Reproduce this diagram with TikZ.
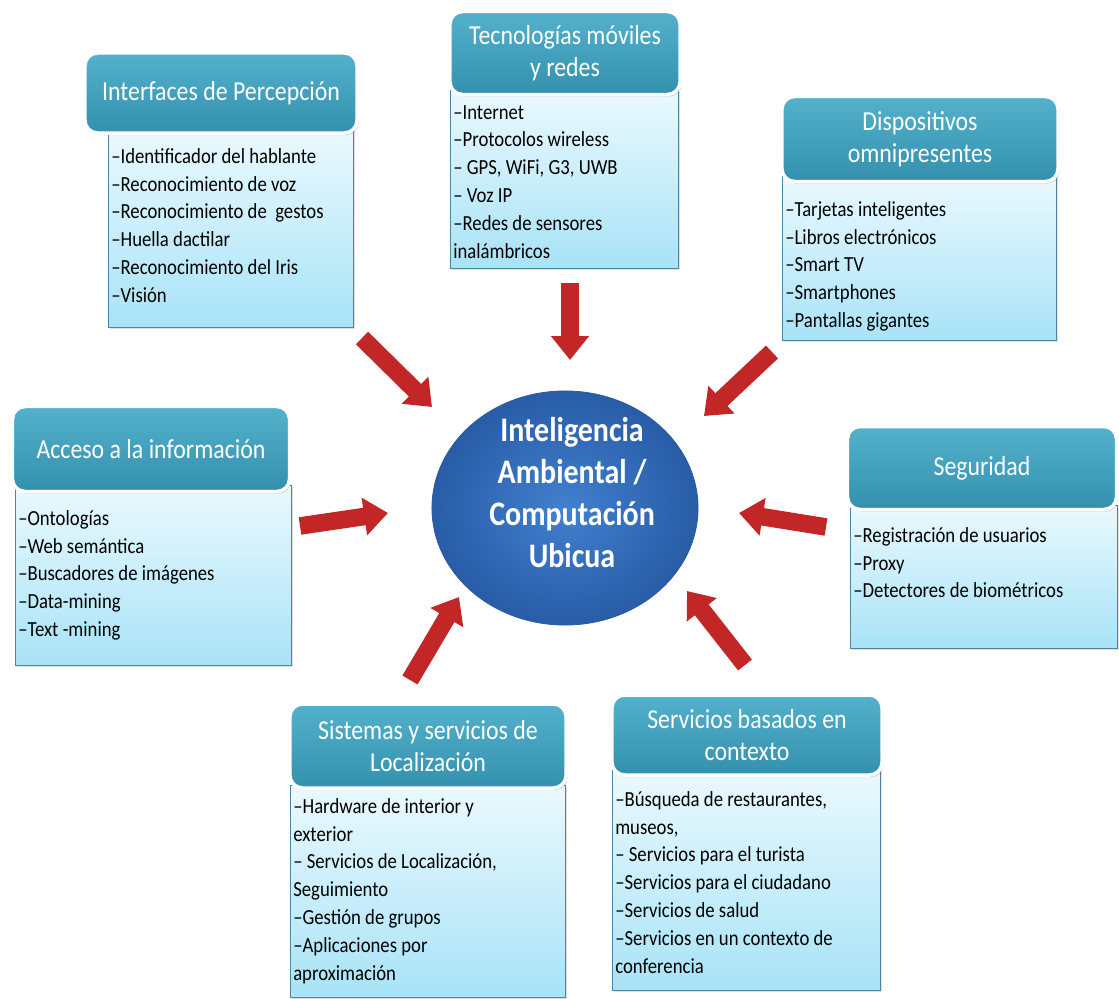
\documentclass[tikz,border=0pt]{standalone}
\usepackage{fontspec}
\setmainfont{Carlito}[FakeStretch=0.87]
\usetikzlibrary{positioning,shapes.geometric,arrows.meta,shadows}

\definecolor{headteal}{RGB}{84,177,204}
\definecolor{headdark}{RGB}{52,145,174}
\definecolor{bodytop}{RGB}{234,249,254}
\definecolor{bodybot}{RGB}{168,227,247}
\definecolor{bodyline}{RGB}{80,132,158}
\definecolor{ballblue}{RGB}{66,128,208}
\definecolor{balldark}{RGB}{40,92,166}
\definecolor{arrowred}{RGB}{194,38,38}

\tikzset{
  head/.style={draw=white, line width=2.5pt, rounded corners=9pt,
    top color=headteal, bottom color=headdark, text=white, align=center,
    font=\fontsize{19.5}{23}\selectfont,
    drop shadow={opacity=0.3, shadow xshift=1.2pt, shadow yshift=-1.5pt}},
  body/.style={draw=bodyline, line width=0.8pt, top color=bodytop,
    bottom color=bodybot, anchor=north west, inner sep=0pt,
    drop shadow={opacity=0.25, shadow xshift=1pt, shadow yshift=-1pt}},
  items/.style={anchor=north west, align=left, inner sep=0pt,
    font=\fontsize{15.3}{19.8}\selectfont},
  ball/.style={ellipse, draw=balldark, line width=0.6pt, inner color=ballblue,
    outer color=balldark},
  balltext/.style={text=white, align=center, inner sep=0pt,
    font=\fontsize{24.5}{30}\selectfont\bfseries},
  bigarrow/.style={draw=arrowred, line width=12.5pt,
    -{Triangle[width=26pt,length=17pt]}}
}

\begin{document}
\begin{tikzpicture}[x=0.025cm, y=-0.025cm]
    \useasboundingbox[fill=white] (0,0) rectangle (1119,999);

    % centre
    \node[ball, minimum width=6.65cm, minimum height=5.85cm] (ami) at (565,508) {};
    \node[balltext] (amiT) at ([xshift=5pt,yshift=11pt]ami.center)
        {Inteligencia\\Ambiental /\\Computación\\Ubicua};

    % Interfaces de Percepcion
    \node[body, minimum width=6.125cm, minimum height=4.975cm] (percB) at (108,128) {};
    \node[items] (percL) at (111,148) {–Identificador del hablante\\–Reconocimiento de voz\\–Reconocimiento de \ gestos\\–Huella dactilar\\–Reconocimiento del Iris\\–Visión};
    \node[head, minimum width=6.8cm, minimum height=2cm] (percH) at (221,93) {Interfaces de Percepción};

    % Tecnologias moviles
    \node[body, minimum width=5.7cm, minimum height=4.45cm] (tecB) at (450,90) {};
    \node[items] (tecL) at (453,105) {–Internet\\–Protocolos wireless\\– GPS, WiFi, G3, UWB\\– Voz IP\\–Redes de sensores\\inalámbricos};
    \node[head, minimum width=5.75cm, minimum height=2.075cm] (tecH) at (565,53) {Tecnologías móviles\\y redes};

    % Dispositivos
    \node[body, minimum width=6.85cm, minimum height=4.125cm] (dispB) at (782,175) {};
    \node[items] (dispL) at (785,201) {–Tarjetas inteligentes\\–Libros electrónicos\\–Smart TV\\–Smartphones\\–Pantallas gigantes};
    \node[head, minimum width=6.9cm, minimum height=2.125cm] (dispH) at (920,139) {Dispositivos\\omnipresentes};

    % Acceso a la informacion
    \node[body, minimum width=6.9cm, minimum height=4.5cm] (accB) at (15,485) {};
    \node[items] (accL) at (18,510) {–Ontologías\\–Web semántica\\–Buscadores de imágenes\\–Data-mining\\–Text -mining};
    \node[head, minimum width=6.925cm, minimum height=2.125cm] (accH) at (151,449) {Acceso a la información};

    % Seguridad
    \node[body, minimum width=6.675cm, minimum height=3.575cm] (segB) at (850,505) {};
    \node[items] (segL) at (853,527) {–Registración de usuarios\\–Proxy\\–Detectores de biométricos};
    \node[head, minimum width=6.725cm, minimum height=2.075cm] (segH) at (982,468) {Seguridad};

    % Localizacion
    \node[body, minimum width=6.875cm, minimum height=5.3cm] (locB) at (290,785) {};
    \node[items] (locL) at (293,798) {–Hardware de interior y\\exterior\\– Servicios de Localización,\\Seguimiento\\–Gestión de grupos\\–Aplicaciones por\\aproximación};
    \node[head, minimum width=6.9cm, minimum height=2.1cm] (locH) at (428,746) {Sistemas y servicios de\\Localización};

    % Servicios basados en contexto
    \node[body, minimum width=6.7cm, minimum height=5.5cm] (ctxB) at (612,770) {};
    \node[items] (ctxL) at (615,791) {–Búsqueda de restaurantes,\\museos,\\– Servicios para el turista\\–Servicios para el ciudadano\\–Servicios de salud\\–Servicios en un contexto de\\conferencia};
    \node[head, minimum width=6.75cm, minimum height=2cm] (ctxH) at (747,735) {Servicios basados en\\contexto};

    % arrows
    \coordinate (percT) at (362,338);  \coordinate (percP) at (432,407);
    \coordinate (tecT) at (570,283);   \coordinate (tecP) at (570,360);
    \coordinate (dispT) at (772,352);  \coordinate (dispP) at (704,416);
    \coordinate (accT) at (300,526);   \coordinate (accP) at (388,513);
    \coordinate (segT) at (826,527);   \coordinate (segP) at (739,513);
    \coordinate (locT) at (410,680);   \coordinate (locP) at (459,597);
    \coordinate (ctxT) at (745,665);   \coordinate (ctxP) at (687,591);

    \draw[bigarrow] (percT) -- (percP);
    \draw[bigarrow] (tecT) -- (tecP);
    \draw[bigarrow] (dispT) -- (dispP);
    \draw[bigarrow] (accT) -- (accP);
    \draw[bigarrow] (segT) -- (segP);
    \draw[bigarrow] (locT) -- (locP);
    \draw[bigarrow] (ctxT) -- (ctxP);
\end{tikzpicture}
\end{document}
